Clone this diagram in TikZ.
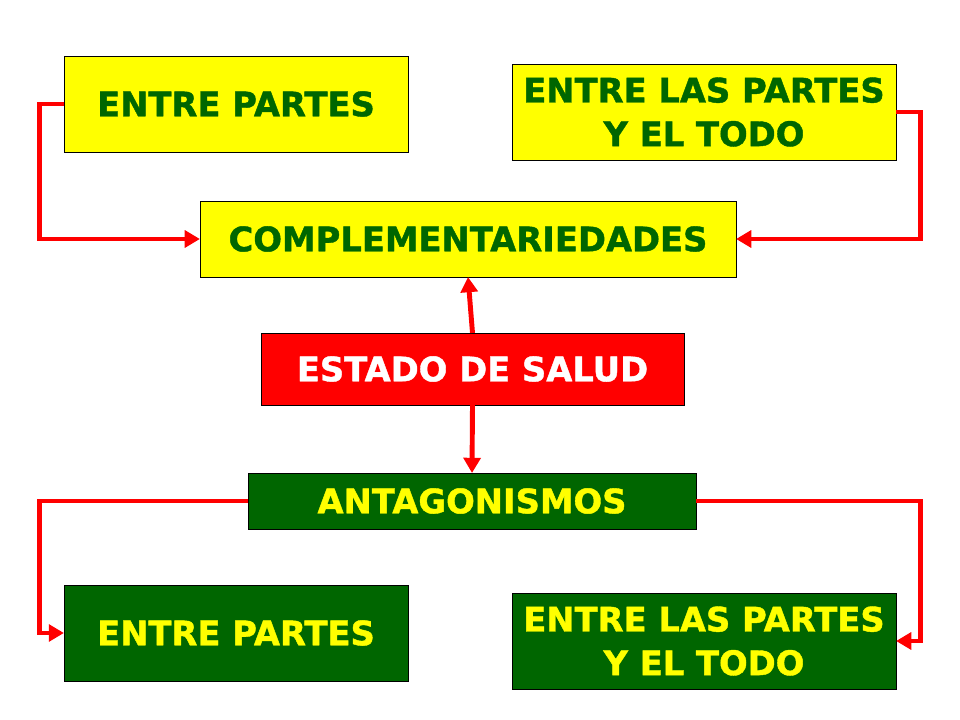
\documentclass[tikz,border=0pt]{standalone}
\usepackage{fontspec}
\setmainfont{DejaVu Sans}[BoldFeatures={FakeBold=1.2}]
\usetikzlibrary{arrows.meta, positioning}

\definecolor{amarillo}{HTML}{FFFF00}
\definecolor{verde}{HTML}{006600}
\definecolor{rojo}{HTML}{FF0000}

\begin{document}
\begin{tikzpicture}[x=0.025cm, y=-0.025cm, >={Triangle[length=0.38cm, width=0.42cm]}, line width=3.5pt, font=\bfseries\fontsize{24}{31}\selectfont, align=center,
    caja/.style={rectangle, draw=black, line width=0.6pt, inner sep=0pt, outer sep=0pt},
    amar/.style={caja, fill=amarillo, text=verde},
    verd/.style={caja, fill=verde, text=amarillo}]

        \useasboundingbox (0,0) rectangle (960,720);

        \node[amar, minimum width=8.6cm, minimum height=2.4cm] (p0) at (236,104) {ENTRE PARTES};
        \node[amar, minimum width=9.6cm, minimum height=2.4cm] (p1) at (704,112) {ENTRE LAS PARTES\\Y EL TODO};

        \node[amar, minimum width=13.4cm, minimum height=1.9cm] (c) at (468,239) {COMPLEMENTARIEDADES};
        \node[caja, fill=rojo, text=white, minimum width=10.575cm, minimum height=1.8cm] (e) at (472.5,369) {ESTADO DE SALUD};
        \node[verd, minimum width=11.2cm, minimum height=1.4cm] (a) at (472,501) {ANTAGONISMOS};

        \node[verd, minimum width=8.6cm, minimum height=2.4cm] (q0) at (236,633) {ENTRE PARTES};
        \node[verd, minimum width=9.6cm, minimum height=2.4cm] (q1) at (704,641) {ENTRE LAS PARTES\\Y EL TODO};

        \draw[->, rojo] (p0.west) -- ([xshift=-0.6cm]p0.west) |- (c.west);
        \draw[->, rojo] (p1.east) -- ([xshift=0.6cm]p1.east) |- (c.east);

        \draw[->, rojo] (e.north) -- (c.south);
        \draw[->, rojo] (e.south) -- (a.north);

        \draw[->, rojo] (a.west) -| ([xshift=-0.6cm]q0.west) -- (q0.west);
        \draw[->, rojo] (a.east) -| ([xshift=0.6cm]q1.east) -- (q1.east);

    \end{tikzpicture}
\end{document}
